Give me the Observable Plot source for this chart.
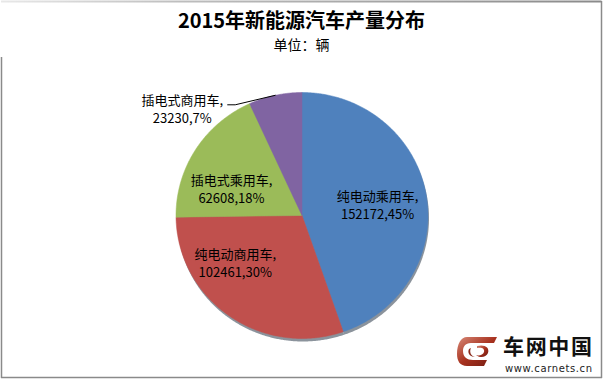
<!DOCTYPE html>
<html><head><meta charset="utf-8">
<script src="https://cdn.jsdelivr.net/npm/d3@7"></script>
<script src="https://cdn.jsdelivr.net/npm/@observablehq/plot@0.6"></script>
<style>
html,body{margin:0;padding:0;background:#fff;}
#wrap{position:relative;width:603px;height:379px;overflow:hidden;font-family:"Noto Sans CJK SC","Noto Sans",sans-serif;}
#title{position:absolute;left:0;width:603px;top:8px;text-align:center;font-size:20px;font-weight:bold;color:#000;line-height:24px;}
#subtitle{position:absolute;left:0;width:603px;top:35px;text-align:center;font-size:14px;color:#000;line-height:18px;}
#chart{position:absolute;left:0;top:0;}
#deco{position:absolute;left:0;top:0;}
</style></head>
<body><div id="wrap"><div id="chart"></div><svg id="deco" width="603" height="379"></svg>
<div id="title">2015年新能源汽车产量分布</div><div id="subtitle">单位：辆</div></div>
<script>
// ---- data ----
const categories = ["纯电动乘用车", "纯电动商用车", "插电式乘用车", "插电式商用车"];
const values = [152172, 102461, 62608, 23230];
const percents = ["45%", "30%", "18%", "7%"];
const colors = ["#4F81BD", "#C0504D", "#9BBB59", "#8064A2"];

// ---- layout (not data) ----
const labelX = [0.60, -0.53, -0.56, -0.95];
const labelY = [0.09, -0.38, 0.22, 0.87];

const total = d3.sum(values);
let acc = 0;
const slices = values.map((v, i) => {
  const a0 = acc / total * 2 * Math.PI; acc += v;
  const a1 = acc / total * 2 * Math.PI;
  return {cat: categories[i], a0, a1};
});
const pts = [];
for (const s of slices) {
  pts.push({cat: s.cat, x: 0, y: 0});
  const n = Math.max(2, Math.ceil((s.a1 - s.a0) / (Math.PI / 360)));
  for (let k = 0; k <= n; k++) {
    const a = s.a0 + (s.a1 - s.a0) * k / n;
    pts.push({cat: s.cat, x: Math.sin(a), y: Math.cos(a)});
  }
  pts.push({cat: s.cat, x: 0, y: 0});
}
const labels = categories.map((c, i) => ({
  cat: c, x: labelX[i], y: labelY[i],
  text: c + ",\n" + values[i] + "," + percents[i]
}));
// leader line for the small outside label
const pm = (slices[3].a0 + slices[3].a1) / 2;
const leader = [
  {x: -0.59, y: 0.90}, {x: -0.53, y: 0.90}, {x: Math.sin(pm), y: Math.cos(pm)}
];

const plot = Plot.plot({
  width: 603, height: 379,
  margin: 0,
  x: {domain: [-1, 1], range: [175.5, 427.5], axis: null},
  y: {domain: [-1, 1], range: [338, 92], axis: null},
  color: {domain: categories, range: colors},
  style: {fontFamily: "'Noto Sans CJK SC', sans-serif", background: "transparent"},
  marks: [
    Plot.line(pts, {x: "x", y: "y", z: "cat", fill: "#2b3a4a", fillOpacity: 0.55, stroke: "none", dx: 1, dy: 3}),
    Plot.line(pts, {x: "x", y: "y", z: "cat", fill: "cat", stroke: "cat", strokeWidth: 0.5}),
    Plot.line(leader, {x: "x", y: "y", stroke: "#000", strokeWidth: 1}),
    Plot.text(labels.slice(0, 3), {x: "x", y: "y", text: "text", fontSize: 13, lineHeight: 1.35, fill: "#000", textAnchor: "middle"}),
    Plot.text(labels.slice(3), {x: "x", y: "y", text: "text", fontSize: 13, lineHeight: 1.35, fill: "#000", textAnchor: "middle"})
  ]
});
document.getElementById("chart").appendChild(plot);

// ---- frame & logo decoration ----
const deco = d3.select("#deco");
const defs = deco.append("defs");
const g = defs.append("linearGradient").attr("id", "topg");
g.append("stop").attr("offset", "0").attr("stop-color", "#e8e8e8");
g.append("stop").attr("offset", "0.3").attr("stop-color", "#bdbdbd");
g.append("stop").attr("offset", "1").attr("stop-color", "#8a8a8a");
deco.append("rect").attr("x", 1).attr("y", 0.5).attr("width", 600.5).attr("height", 2).attr("fill", "url(#topg)");
deco.append("line").attr("x1", 601.5).attr("y1", 1).attr("x2", 601.5).attr("y2", 378).attr("stroke", "#8a8a8a").attr("stroke-width", 1.5);
deco.append("line").attr("x1", 1).attr("y1", 377.5).attr("x2", 602).attr("y2", 377.5).attr("stroke", "#8a8a8a").attr("stroke-width", 1.5);
deco.append("line").attr("x1", 1.5).attr("y1", 57).attr("x2", 1.5).attr("y2", 378).attr("stroke", "#8a8a8a").attr("stroke-width", 1.5);
// logo icon
const lg = deco.append("g").attr("transform", "translate(457,335)");
const rg = defs.append("linearGradient").attr("id", "lgr").attr("x1", 0).attr("y1", 0).attr("x2", 1).attr("y2", 1);
rg.append("stop").attr("offset", "0").attr("stop-color", "#d88a78");
rg.append("stop").attr("offset", "0.5").attr("stop-color", "#a8321f");
rg.append("stop").attr("offset", "1").attr("stop-color", "#6e1a10");
lg.append("path").attr("d", "M10,2 L40,2 L37,8 L14,8 C8,8 6,12 6,16 C6,22 10,25 16,25 L30,25 L27,31 L10,31 C3,31 0,26 0,19 C0,9 4,2 10,2 Z").attr("fill", "url(#lgr)");
lg.append("path").attr("d", "M20,11 C27,9 33,12 31,18 C29,23 22,23 19,20 C22,21 26,20 27,17 C28,13 24,12 20,13 Z").attr("fill", "url(#lgr)");
lg.append("path").attr("d", "M14,13 C12,17 14,21 18,22 C13,22 10,18 12,14 Z").attr("fill", "#8a2a1a");
deco.append("text").attr("x", 503).attr("y", 354).attr("font-size", 21).attr("font-weight", "bold")
  .attr("font-family", "'Noto Sans CJK SC', sans-serif").attr("fill", "#111").attr("textLength", 89).text("车网中国");
deco.append("text").attr("x", 505).attr("y", 372).attr("font-size", 10)
  .attr("font-family", "'DejaVu Sans', sans-serif").attr("fill", "#222").attr("textLength", 87).text("www.carnets.cn");
</script></body></html>
